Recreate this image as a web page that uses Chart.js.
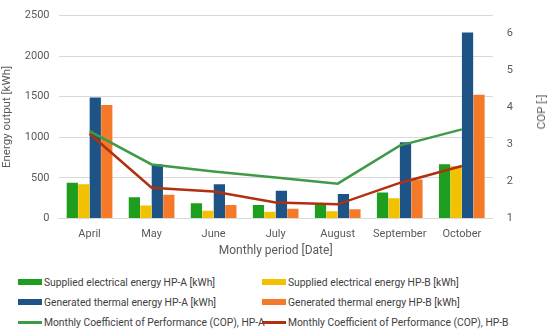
<!DOCTYPE html>
<html>
<head>
<meta charset="utf-8">
<script src="https://cdn.jsdelivr.net/npm/chart.js@4"></script>
<style>
  body { margin: 0; background: #fff; font-family: Roboto, sans-serif; }
  #wrap { width: 550px; height: 331px; position: relative; }
  #chartBox { position: absolute; left: 0; top: 0; width: 550px; height: 258px; }
  #copTitle { position: absolute; left: 541px; top: 112px; transform: translate(-50%, -50%) rotate(-90deg);
    font-size: 11.5px; color: #595959; white-space: nowrap; }
  #legend { position: absolute; left: 18px; top: 272px; width: 530px;
    display: grid; grid-template-columns: 244px 270px;
    font-size: 10.3px; color: #404040; }
  .item { display: flex; align-items: center; white-space: nowrap; height: 20px; }
  .sw { width: 24px; margin-right: 2px; flex-shrink: 0; }
</style>
</head>
<body>
<div id="wrap">
  <div id="chartBox"><canvas id="graph"></canvas></div>
  <div id="copTitle">COP [-]</div>
  <div id="legend"></div>
</div>
<script>
// dati
const months = ['April', 'May', 'June', 'July', 'August', 'September', 'October'];
const elecA = [440, 262, 186, 165, 178, 320, 668];
const elecB = [420, 158, 93, 82, 88, 248, 642];
const thermA = [1490, 665, 420, 340, 300, 938, 2293];
const thermB = [1398, 293, 164, 120, 112, 480, 1524];
const copA = [3.36, 2.46, 2.27, 2.11, 1.94, 2.97, 3.41];
const copB = [3.29, 1.83, 1.73, 1.43, 1.38, 1.96, 2.42];
const leftTicks = [0, 500, 1000, 1500, 2000, 2500];
const rightTicks = [1, 2, 3, 4, 5, 6];

const colors = {
    elecA: '#1e9e1e',
    elecB: '#f2c200',
    thermA: '#1d5485',
    thermB: '#f47a2a',
    copA: '#3f9a47',
    copB: '#b2300f'
};

const textColor = '#595959';

const datasets = [
    { type: 'line', label: 'Monthly Coefficient of Performance (COP), HP-A', data: copA, yAxisID: 'y1',
      borderColor: colors.copA, backgroundColor: colors.copA, borderWidth: 2.5, pointRadius: 0, order: 0 },
    { type: 'line', label: 'Monthly Coefficient of Performance (COP), HP-B', data: copB, yAxisID: 'y1',
      borderColor: colors.copB, backgroundColor: colors.copB, borderWidth: 2.5, pointRadius: 0, order: 0 },
    { label: 'Supplied electrical energy HP-A [kWh]', data: elecA, backgroundColor: colors.elecA, yAxisID: 'y', order: 1 },
    { label: 'Supplied electrical energy HP-B [kWh]', data: elecB, backgroundColor: colors.elecB, yAxisID: 'y', order: 1 },
    { label: 'Generated thermal energy HP-A [kWh]', data: thermA, backgroundColor: colors.thermA, yAxisID: 'y', order: 1 },
    { label: 'Generated thermal energy HP-B [kWh]', data: thermB, backgroundColor: colors.thermB, yAxisID: 'y', order: 1 }
];
datasets.forEach(d => { if (!d.type) { d.type = 'bar'; d.barPercentage = 0.98; d.categoryPercentage = 0.74; } });

const ctx = document.getElementById('graph').getContext('2d');
const chart = new Chart(ctx, {
    data: { labels: months, datasets: datasets },
    options: {
        responsive: true,
        maintainAspectRatio: false,
        animation: false,
        layout: { padding: { left: 0, right: 31, top: -7, bottom: 0 } },
        plugins: { legend: { display: false }, tooltip: { enabled: false } },
        scales: {
            x: {
                grid: { display: false },
                border: { color: '#d9d9d9' },
                ticks: { color: textColor, font: { family: 'Roboto', size: 11 }, padding: 1 },
                title: { display: true, text: 'Monthly period [Date]', color: textColor,
                         font: { family: 'Roboto', size: 12 }, padding: { top: 2, bottom: 0 } }
            },
            y: {
                position: 'left',
                min: leftTicks[0], max: leftTicks[leftTicks.length - 1],
                afterBuildTicks: axis => { axis.ticks = leftTicks.map(v => ({ value: v })); },
                grid: { color: '#d9d9d9', drawTicks: false },
                border: { display: false },
                ticks: { color: textColor, font: { family: 'Roboto', size: 11 }, padding: 9,
                         callback: v => String(v) },
                title: { display: true, text: 'Energy output [kWh]', color: textColor,
                         font: { family: 'Roboto', size: 11.5 }, padding: { top: 0, bottom: 2 } }
            },
            y1: {
                position: 'right',
                min: 1, max: 6.49,
                afterBuildTicks: axis => { axis.ticks = rightTicks.map(v => ({ value: v })); },
                grid: { display: false },
                border: { display: false },
                ticks: { color: textColor, font: { family: 'Roboto', size: 11 }, padding: 6,
                         callback: v => String(v) },
                title: { display: false }
            }
        }
    }
});

// legenda a due colonne
const legendOrder = [2, 3, 4, 5, 0, 1];
const legendBox = document.getElementById('legend');
legendOrder.forEach(i => {
    const d = datasets[i];
    const item = document.createElement('div');
    item.className = 'item';
    const sw = document.createElement('span');
    sw.className = 'sw';
    sw.style.height = d.type === 'line' ? '3px' : '6px';
    sw.style.background = d.type === 'line' ? d.borderColor : d.backgroundColor;
    const txt = document.createElement('span');
    txt.textContent = d.label;
    item.appendChild(sw);
    item.appendChild(txt);
    legendBox.appendChild(item);
});
</script>
</body>
</html>
